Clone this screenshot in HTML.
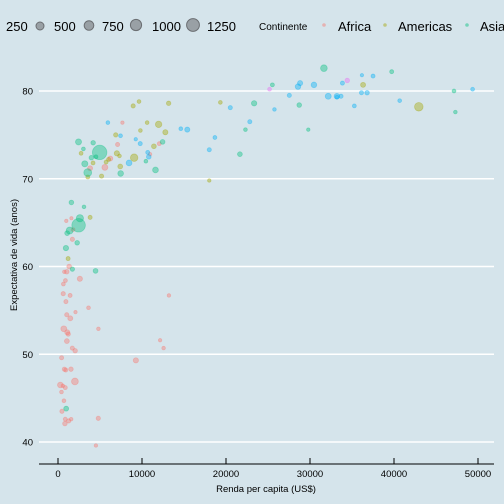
<!DOCTYPE html>
<html><head><meta charset="utf-8"><style>
body{margin:0;background:#d5e4eb}
svg{display:block;font-family:"Liberation Sans",sans-serif}
</style></head><body>
<svg id="chart" width="504" height="504" viewBox="0 0 504 504">
<rect width="504" height="504" fill="#d5e4eb"/>
<g id="legend" font-size="13" fill="#000">
<text x="6" y="31">250</text>
<circle cx="40" cy="26" r="4" fill="#8a8e93" fill-opacity="0.8" stroke="#6b6e72"/>
<text x="54" y="31">500</text>
<circle cx="89" cy="25.5" r="4.8" fill="#8a8e93" fill-opacity="0.8" stroke="#6b6e72"/>
<text x="102" y="31">750</text>
<circle cx="136" cy="25" r="5.6" fill="#8a8e93" fill-opacity="0.8" stroke="#6b6e72"/>
<text x="152" y="31">1000</text>
<circle cx="193" cy="25" r="6.4" fill="#8a8e93" fill-opacity="0.8" stroke="#6b6e72"/>
<text x="207" y="31">1250</text>
<text x="259" y="30" font-size="10">Continente</text>
<circle cx="324" cy="25" r="1.8" fill="#F8766D" fill-opacity="0.45"/>
<text x="338" y="31">Africa</text>
<circle cx="385" cy="25" r="1.8" fill="#A3A500" fill-opacity="0.45"/>
<text x="398" y="31">Americas</text>
<circle cx="467" cy="25" r="1.8" fill="#00BF7D" fill-opacity="0.45"/>
<text x="480" y="31">Asia</text>
</g>
<g id="grid"></g>
<g id="points"></g>
<g id="axes"></g>
<text x="266" y="492" font-size="9.5" text-anchor="middle">Renda per capita (US$)</text>
<text transform="translate(17,255) rotate(-90)" font-size="9.5" text-anchor="middle">Expectativa de vida (anos)</text>
</svg>
<script>
const yTicks=[40,50,60,70,80];
const xTicks=[0,10000,20000,30000,40000,50000];
const continents=["Africa","Americas","Asia","Europe","Oceania"];
const colors=["#F8766D","#A3A500","#00BF7D","#00B0F6","#E76BF3"];
// [gdpPercap, lifeExp, pop(millions)]
const africa=[[6223,72.3,33.3],[4797,42.7,12.4],[1441,56.7,8.08],[12570,50.7,1.64],[1217,52.3,14.3],[430,49.6,8.39],[2042,50.4,17.7],[706,44.7,4.37],[1704,50.7,10.2],[986,65.2,0.71],[278,46.5,64.6],[3633,55.3,3.8],[1545,48.3,18.0],[2082,54.8,0.5],[5581,71.3,80.3],[12154,51.6,0.55],[641,58.0,4.9],[690,52.9,76.5],[13206,56.7,1.45],[753,59.4,1.69],[1327,60.0,22.9],[943,56.0,9.9],[579,46.4,1.47],[1463,54.1,35.6],[1569,42.6,2.0],[415,45.7,3.19],[12057,74.0,6.0],[1045,59.4,19.2],[759,48.3,13.3],[1042,54.5,12.0],[1803,64.2,3.27],[10957,72.8,1.25],[3820,71.2,33.8],[824,42.1,20.0],[4811,52.9,2.06],[620,56.9,12.9],[2014,46.9,135],[7670,76.4,0.8],[863,46.2,8.86],[1598,65.5,0.2],[1712,63.1,12.3],[863,42.6,6.14],[926,48.2,9.1],[9270,49.3,44.0],[2602,58.6,42.3],[4513,39.6,1.13],[1107,52.5,38.1],[883,58.4,5.7],[7093,73.9,10.3],[1056,51.5,29.2],[1271,42.4,11.7],[470,43.5,12.3]];
const americas=[[12779,75.3,40.3],[3822,65.6,9.1],[9066,72.4,190],[36319,80.7,33.4],[13172,78.6,16.3],[7007,72.9,44.2],[9645,78.8,4.1],[8948,78.3,11.4],[6025,72.2,9.3],[6873,75.0,13.8],[5728,71.9,6.9],[5186,70.3,12.6],[1202,60.9,8.5],[3548,70.2,7.5],[7321,72.6,2.8],[11978,76.2,108.7],[2749,72.9,5.7],[9809,75.5,3.2],[4173,71.8,6.7],[7409,71.4,28.7],[19329,78.7,3.9],[18009,69.8,1.06],[42952,78.2,301],[10611,76.4,3.45],[11416,73.7,26.1]];
const asia=[[975,43.8,31.9],[29796,75.6,0.71],[1391,64.1,150],[1714,59.7,14.1],[4959,73.0,1318],[39725,82.2,6.98],[2452,64.7,1110],[3541,70.7,223.5],[11606,71.0,69.5],[4471,59.5,27.5],[25523,80.7,6.4],[31656,82.6,127.5],[4519,72.5,6.05],[1593,67.3,23.3],[23348,78.6,49.0],[47307,77.6,2.5],[10461,72.0,3.9],[12452,74.2,24.8],[3096,66.8,2.87],[944,62.1,47.8],[1091,63.8,28.9],[22316,75.6,3.2],[2606,65.5,169],[3190,71.7,91],[21655,72.8,27.6],[47143,80.0,4.55],[3970,72.4,20.4],[4185,74.1,19.3],[28718,78.4,23.2],[7458,70.6,65.1],[2442,74.2,85.3],[3025,73.4,4.0],[2281,62.7,22.2]];
const europe=[[5937,76.4,3.6],[36126,79.8,8.2],[33693,79.4,10.4],[7446,74.9,4.55],[10681,73.0,7.3],[14619,75.7,4.5],[22833,76.5,10.2],[35278,78.3,5.47],[33207,79.3,5.2],[30470,80.7,61.1],[32170,79.4,82.4],[27538,79.5,10.7],[18009,73.3,9.96],[36181,81.8,0.3],[40676,78.9,4.1],[28570,80.5,58.1],[9254,74.5,0.68],[36798,79.8,16.6],[49357,80.2,4.6],[15390,75.6,38.5],[20510,78.1,10.6],[10808,72.5,22.3],[9787,74.0,10.2],[18678,74.7,5.45],[25768,77.9,2.0],[28821,80.9,40.4],[33860,80.9,9.0],[37506,81.7,7.55],[8458,71.8,71.2],[33203,79.4,60.8]];
const oceania=[[34435,81.2,20.4],[25185,80.2,4.1]];
const NS="http://www.w3.org/2000/svg";
const xS=v=>58+v*(420/50000);
const yS=v=>91+(80-v)*(351/40);
const rS=p=>1.6+Math.sqrt(p)*0.155;
function mk(t,a,p){const e=document.createElementNS(NS,t);for(const k in a)e.setAttribute(k,a[k]);p.appendChild(e);return e;}
const grid=document.getElementById('grid');
yTicks.forEach(t=>{
 const l=mk('line',{x1:39,x2:494,y1:yS(t),y2:yS(t),stroke:'#fff','stroke-width':1.6},grid);
 
 
 const tx=mk('text',{x:33,y:yS(t)+3.5,'font-size':9.5,'text-anchor':'end'},grid);
 tx.textContent=t;
 
 
});
const axes=document.getElementById('axes');
const al=mk('line',{x1:39,x2:494,y1:464,y2:464,stroke:'#000','stroke-width':1},axes);


xTicks.forEach(t=>{
 const tk=mk('line',{x1:xS(t),x2:xS(t),y1:458,y2:464,stroke:'#000','stroke-width':1},axes);
 
 
 const tx=mk('text',{x:xS(t),y:477,'font-size':9.5,'text-anchor':'middle'},axes);
 tx.textContent=t;
 
 
});
const pts=document.getElementById('points');
[africa,americas,asia,europe,oceania].forEach((arr,ci)=>{
 arr.forEach((d,i)=>{
  const c=mk('circle',{cx:xS(d[0]),cy:yS(d[1]),r:rS(d[2]),fill:colors[ci],'fill-opacity':0.4,stroke:colors[ci],'stroke-opacity':0.35,'stroke-width':0.8},pts);
  
  
 });
});
</script>
</body></html>
